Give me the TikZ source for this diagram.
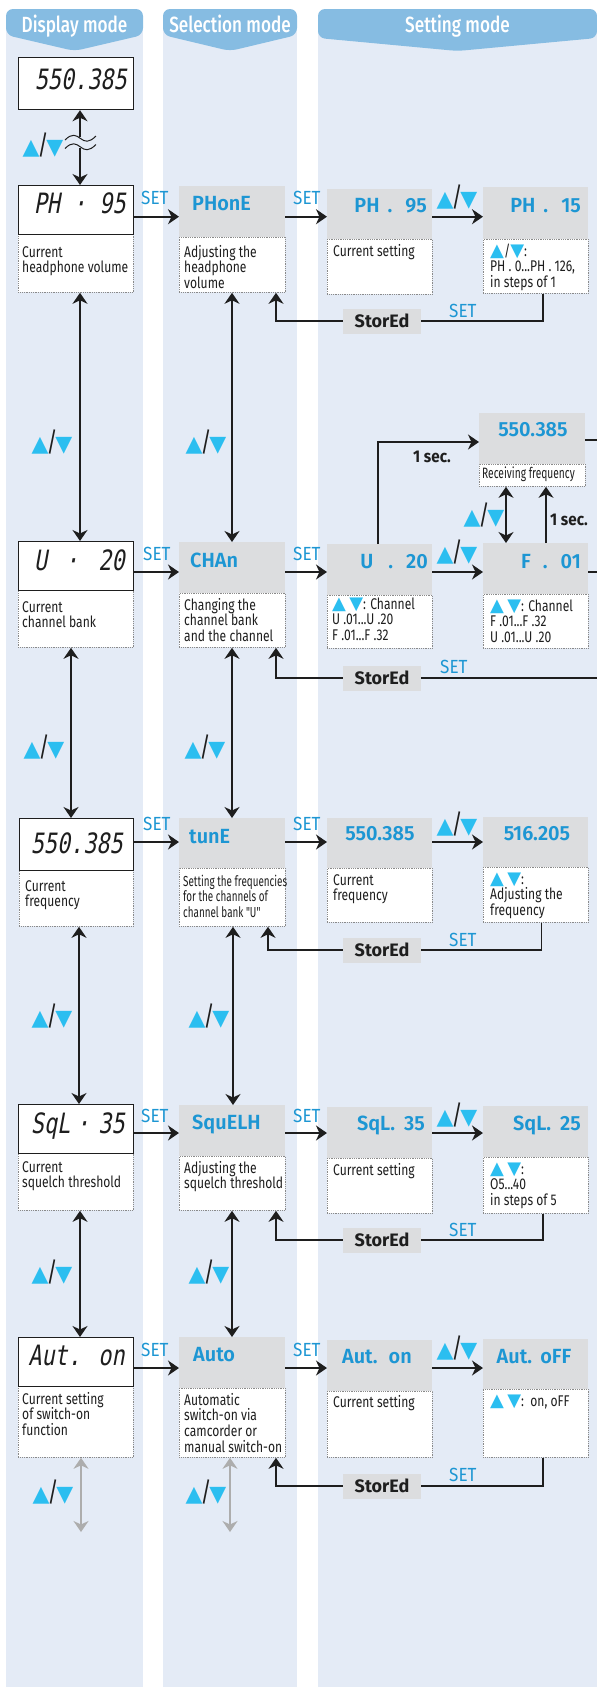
\documentclass[tikz,border=0pt]{standalone}
\usepackage{fontspec}
\usetikzlibrary{arrows.meta}
\setmainfont{Fira Sans}
\newfontfamily\hdrfont[FakeStretch=0.78]{Fira Sans Medium}
\newfontfamily\setfont[FakeStretch=0.9]{Fira Sans}
\newfontfamily\semifont[FakeStretch=0.97]{Fira Sans SemiBold}
\newfontfamily\bodyfont[FakeStretch=0.78]{Fira Sans}
\newfontfamily\narrowfont[FakeStretch=0.68]{Fira Sans}
\newfontfamily\lcdfont[FakeStretch=0.78,FakeSlant=0.18]{DejaVu Sans Mono}
\newfontfamily\symfont{DejaVu Sans}
\definecolor{colbg}{HTML}{E4EBF6}
\definecolor{hdr}{HTML}{86BCE2}
\definecolor{boxgrey}{HTML}{DCDDDF}
\definecolor{dblue}{HTML}{1D96D3}
\definecolor{tri}{HTML}{2BBEF0}
\definecolor{ink}{HTML}{1E1E1E}
\definecolor{dotc}{HTML}{8A8A8A}
\definecolor{ghost}{HTML}{ADADAD}
\newcommand\UpT{\textcolor{tri}{\symfont ▲}}
\newcommand\DnT{\textcolor{tri}{\symfont ▼}}
\newcommand\UDbig{{\fontsize{22}{22}\selectfont\UpT{\bodyfont\fontsize{27}{27}\selectfont\hspace{-2pt}\textcolor{ink}{/}\hspace{-2pt}}\DnT}}
\newcommand\UDs{{\fontsize{18}{12}\selectfont\UpT}}
\newcommand\DDs{{\fontsize{18}{12}\selectfont\DnT}}
\newcommand\fst{\rule{0pt}{13pt}}
\newcommand\bx[6]{\pgfmathsetmacro\bw{#5-#3}\pgfmathsetmacro\bh{#6-#4}\node[#1,minimum width=\bw pt,minimum height=\bh pt] (#2) at (#3,#4) {};}
\begin{document}
\begin{tikzpicture}[x=1pt,y=-1pt,
 lcdb/.style={draw=ink,line width=1.2pt,fill=white,inner sep=0pt,anchor=north west},
 greyb/.style={fill=boxgrey,inner sep=0pt,anchor=north west},
 dotb/.style={draw=dotc,densely dotted,line width=0.8pt,fill=white,inner sep=0pt,anchor=north west},
 lcdt/.style={font=\lcdfont\fontsize{28}{28}\selectfont,text=ink,inner sep=0pt,anchor=base east},
 bluet/.style={font=\semifont\fontsize{20.5}{20.5}\selectfont,text=dblue,inner sep=0pt,anchor=base west},
 bluer/.style={bluet,anchor=base east},
 bluec/.style={bluet,anchor=base},
 desct/.style={font=\bodyfont\fontsize{15.5}{15.7}\selectfont,text=ink,inner sep=0pt,anchor=north west,align=left},
 smallt/.style={font=\narrowfont\fontsize{14.5}{15.5}\selectfont,text=ink,inner sep=0pt,anchor=north west,align=left},
 sett/.style={font=\setfont\fontsize{19}{19}\selectfont,text=dblue,inner sep=0pt,anchor=base west},
 stor/.style={fill=boxgrey,inner sep=0pt,minimum width=78pt,minimum height=25pt,font=\bfseries\fontsize{18}{18}\selectfont,text=ink},
 sect/.style={font=\setfont\bfseries\fontsize{17}{17}\selectfont,text=ink,inner sep=0pt,anchor=base west},
 udt/.style={inner sep=0pt,anchor=center},
 hdrt/.style={font=\hdrfont\fontsize{22}{22}\selectfont,text=white,inner sep=0pt,anchor=base},
 arr/.style={draw=ink,line width=1.6pt,-{Stealth[length=11pt,width=15pt,inset=3.5pt]}},
 darr/.style={draw=ink,line width=1.6pt,{Stealth[length=11pt,width=15pt,inset=3.5pt]}-{Stealth[length=11pt,width=15pt,inset=3.5pt]}},
 garr/.style={darr,draw=ghost},
 ln/.style={draw=ink,line width=1.6pt},
 wave/.style={draw=ink,line width=1pt}]
\useasboundingbox (0,0) rectangle (597,1687);
% columns
\fill[colbg] (6,25) rectangle (143,1687);
\fill[colbg] (163,25) rectangle (297,1687);
\fill[colbg] (318,25) rectangle (597,1687);
\fill[hdr,rounded corners=7pt] (6,35) -- (6,9) -- (143,9) -- (143,35) -- (74.5,51) -- cycle;
\fill[hdr,rounded corners=7pt] (163,35) -- (163,9) -- (297,9) -- (297,35) -- (230,51) -- cycle;
\fill[hdr,rounded corners=7pt] (318,38) -- (318,9) -- (597,9) -- (597,38) -- (457.5,51) -- cycle;
\node[hdrt] (h1) at (74.5,32) {Display mode};
\node[hdrt] (h2) at (230,32) {Selection mode};
\node[hdrt] (h3) at (457.5,32) {Setting mode};
% coordinates
\coordinate (y1) at (0,216.7); \coordinate (y2) at (0,572); \coordinate (y3) at (0,842);
\coordinate (y4) at (0,1133); \coordinate (y5) at (0,1368); \coordinate (y2r) at (0,442);
\coordinate (x80) at (80,0); \coordinate (x71) at (71,0); \coordinate (x79) at (79,0);
\coordinate (x232) at (232,0); \coordinate (x233) at (233,0); \coordinate (x276) at (276,0);
\coordinate (x268) at (268,0); \coordinate (x543) at (543,0); \coordinate (x541) at (541.5,0);
\coordinate (x378) at (378,0); \coordinate (x506) at (506,0); \coordinate (x546) at (546,0);
% top box
\bx{lcdb}{d0}{18}{57}{133}{109}
\node[lcdt] (d0t) at (127,89) {550.385};
% row 1
\bx{dotb}{d1d}{18}{234}{133}{292}
\bx{lcdb}{d1}{18}{185}{133}{234}
\bx{dotb}{s1d}{179}{237}{285}{292}
\bx{greyb}{s1}{179}{186}{285}{237}
\bx{dotb}{a1d}{327}{239}{432}{294}
\bx{greyb}{a1}{327}{189}{432}{239}
\bx{dotb}{b1d}{483}{239}{588}{293}
\bx{greyb}{b1}{483}{187}{588}{239}
\node[lcdt] (d1t) at (126,213) {PH · 95};
\node[bluet] (s1t) at (192,210) {PHonE};
\node[bluer] (a1t) at (427,212) {PH\hspace{8pt}.\hspace{13pt}95};
\node[bluer] (b1t) at (581,212) {PH\hspace{8pt}.\hspace{13pt}15};
\node[desct] (d1x) at (22,244) {\fst Current\\headphone volume};
\node[desct] (s1x) at (184,244) {\fst Adjusting the\\headphone\\volume};
\node[desct] (a1x) at (333,243) {\fst Current setting};
\node[desct] (b1x) at (490,243) {\fst\UDs/\DDs:\\PH . 0...PH . 126,\\in steps of 1};
\node[stor] (st1) at (382,321) {StorEd};
% row 2
\bx{dotb}{d2d}{18}{590}{133}{647}
\bx{lcdb}{d2}{18}{541}{133}{590}
\bx{dotb}{s2d}{179}{593}{285}{647}
\bx{greyb}{s2}{179}{542}{285}{593}
\bx{dotb}{a2d}{327}{595}{432}{648}
\bx{greyb}{a2}{327}{544}{432}{595}
\bx{dotb}{b2d}{483}{594}{588}{648}
\bx{greyb}{b2}{483}{543}{588}{594}
\bx{dotb}{rfd}{479}{464}{585}{486}
\bx{greyb}{rf}{479}{413}{585}{464}
\node[lcdt] (d2t) at (125,570) {U\hspace{18pt}·\hspace{20pt}20};
\node[bluet] (s2t) at (190,567) {CHAn};
\node[bluer] (a2t) at (428,568) {U\hspace{15pt}.\hspace{13pt}20};
\node[bluer] (b2t) at (581,568) {F\hspace{12pt}.\hspace{13pt}01};
\node[bluec] (rft) at (533,436) {550.385};
\node[desct] (d2x) at (22,599) {\fst Current\\channel bank};
\node[desct] (s2x) at (184,597) {\fst Changing the\\channel bank\\and the channel};
\node[desct] (a2x) at (332,596) {\fst\UDs\ \DDs: Channel\\U .01...U .20\\F .01...F .32};
\node[desct] (b2x) at (490,598) {\fst\UDs\ \DDs: Channel\\F .01...F .32\\U .01...U .20};
\node[smallt,font=\narrowfont\fontsize{15}{15}\selectfont] (rfx) at (482,465) {\fst Receiving frequency};
\node[stor] (st2) at (382,678) {StorEd};
% row 3
\bx{dotb}{d3d}{19}{870}{133}{926}
\bx{lcdb}{d3}{19}{818}{133}{870}
\bx{dotb}{s3d}{179}{868}{285}{926}
\bx{greyb}{s3}{179}{818}{285}{868}
\bx{dotb}{a3d}{327}{868}{432}{922}
\bx{greyb}{a3}{327}{818}{432}{868}
\bx{dotb}{b3d}{483}{867}{588}{922}
\bx{greyb}{b3}{483}{817}{588}{867}
\node[lcdt] (d3t) at (123,853) {550.385};
\node[bluet] (s3t) at (189,843) {tunE};
\node[bluec] (a3t) at (380,840) {550.385};
\node[bluec] (b3t) at (537,840) {516.205};
\node[desct] (d3x) at (25,878) {\fst Current\\frequency};
\node[smallt] (s3x) at (183,873) {\fst Setting the frequencies\\for the channels of\\channel bank "U"};
\node[desct] (a3x) at (333,872) {\fst Current\\frequency};
\node[desct] (b3x) at (490,871) {\fst\UDs\ \DDs:\\Adjusting the\\frequency};
\node[stor] (st3) at (382,950) {StorEd};
% row 4
\bx{dotb}{d4d}{18}{1153}{133}{1210}
\bx{lcdb}{d4}{18}{1104}{133}{1153}
\bx{dotb}{s4d}{179}{1156}{285}{1210}
\bx{greyb}{s4}{179}{1105}{285}{1156}
\bx{dotb}{a4d}{327}{1158}{432}{1213}
\bx{greyb}{a4}{327}{1107}{432}{1158}
\bx{dotb}{b4d}{483}{1157}{588}{1213}
\bx{greyb}{b4}{483}{1106}{588}{1157}
\node[lcdt] (d4t) at (125,1133) {SqL\hspace{6pt}·\hspace{9pt}35};
\node[bluet] (s4t) at (192,1129) {SquELH};
\node[bluer] (a4t) at (425,1130) {SqL.\hspace{9pt}35};
\node[bluer] (b4t) at (581,1130) {SqL.\hspace{9pt}25};
\node[desct] (d4x) at (22,1159) {\fst Current\\squelch threshold};
\node[desct] (s4x) at (184,1160) {\fst Adjusting the\\squelch threshold};
\node[desct] (a4x) at (333,1162) {\fst Current setting};
\node[desct] (b4x) at (490,1161) {\fst\UDs\ \DDs:\\O5...40\\in steps of 5};
\node[stor] (st4) at (382,1240) {StorEd};
% row 5
\bx{dotb}{d5d}{18}{1386}{133}{1457}
\bx{lcdb}{d5}{18}{1337}{133}{1386}
\bx{dotb}{s5d}{179}{1388}{285}{1457}
\bx{greyb}{s5}{179}{1337}{285}{1388}
\bx{dotb}{a5d}{327}{1391}{432}{1457}
\bx{greyb}{a5}{327}{1340}{432}{1391}
\bx{dotb}{b5d}{483}{1389}{588}{1457}
\bx{greyb}{b5}{483}{1339}{588}{1389}
\node[lcdt] (d5t) at (125,1365) {Aut. on};
\node[bluet] (s5t) at (193,1361) {Auto};
\node[bluec] (a5t) at (377,1363) {Aut.\hspace{11pt}on};
\node[bluec] (b5t) at (534,1363) {Aut.\hspace{8pt}oFF};
\node[desct] (d5x) at (22,1391) {\fst Current setting\\of switch-on\\function};
\node[desct] (s5x) at (184,1392) {\fst Automatic\\switch-on via\\camcorder or\\manual switch-on};
\node[desct] (a5x) at (333,1394) {\fst Current setting};
\node[desct] (b5x) at (490,1393) {\fst\UDs\ \DDs:\ \ on, oFF};
\node[stor] (st5) at (382,1486) {StorEd};
% horizontal arrows
\foreach \r in {1,...,5}{
  \draw[arr] (d\r.east |- y\r) -- (s\r.west |- y\r);
  \draw[arr] (s\r.east |- y\r) -- (a\r.west |- y\r);
  \draw[arr] (a\r.east |- y\r) -- (b\r.west |- y\r);
}
% SET labels
\node[sett] (e11) at (141,204) {SET}; \node[sett] (e12) at (293,204) {SET};
\node[sett] (e21) at (143,560) {SET}; \node[sett] (e22) at (293,560) {SET};
\node[sett] (e31) at (143,830) {SET}; \node[sett] (e32) at (293,830) {SET};
\node[sett] (e41) at (141,1122) {SET}; \node[sett] (e42) at (293,1122) {SET};
\node[sett] (e51) at (141,1356) {SET}; \node[sett] (e52) at (293,1356) {SET};
\node[sett] (r1s) at (449,317) {SET};
\node[sett] (r2s) at (440,673) {SET};
\node[sett] (r3s) at (449,946) {SET};
\node[sett] (r4s) at (449,1236) {SET};
\node[sett] (r5s) at (449,1481) {SET};
% up/down symbols on setting arrows
\node[udt] (u1) at (457,197) {\UDbig};
\node[udt] (u2) at (457,552) {\UDbig};
\node[udt] (u3) at (457,824) {\UDbig};
\node[udt] (u4) at (457,1115) {\UDbig};
\node[udt] (u5) at (457,1348) {\UDbig};
\node[udt] (urf) at (484,515) {\UDbig};
% return paths
\draw[ln] (b1d.south -| x543) |- (st1.east);
\draw[arr] (st1.west) -| (s1d.south -| x276);
\coordinate (e2in) at (597,678);
\draw[ln] (e2in) -- (st2.east);
\draw[arr] (st2.west) -| (s2d.south -| x276);
\draw[ln] (b3d.south -| x541) |- (st3.east);
\draw[arr] (st3.west) -| (s3d.south -| x268);
\draw[ln] (b4d.south -| x543) |- (st4.east);
\draw[arr] (st4.west) -| (s4d.south -| x276);
\draw[ln] (b5d.south -| x543) |- (st5.east);
\draw[arr] (st5.west) -| (s5d.south -| x276);
% channel row extras
\coordinate (rfout) at (597,440);
\coordinate (b2out) at (597,572);
\draw[arr] (a2.north -| x378) |- (rf.west |- y2r);
\draw[ln] (rf.east |- rfout) -- (rfout);
\draw[ln] (b2.east |- b2out) -- (b2out);
\draw[darr] (rfd.south -| x506) -- (b2.north -| x506);
\draw[arr] (b2.north -| x546) -- (rfd.south -| x546);
\node[sect] (sec1) at (413,462) {1 sec.};
\node[sect] (sec2) at (550,525) {1 sec.};
% top arrow with break
\coordinate (bk1) at (80,137);
\coordinate (bk2) at (80,148);
\draw[arr] (bk1) -- (d0.south -| bk1);
\draw[arr] (bk2) -- (d1.north -| bk2);
\draw[wave] (65,140) .. controls (72,133) and (76,135) .. (80.5,138.5) .. controls (85,142) and (89,143) .. (96,136);
\draw[wave] (65,148.5) .. controls (72,141.5) and (76,143.5) .. (80.5,147) .. controls (85,150.5) and (89,151.5) .. (96,144.5);
\node[udt] (v0) at (43,145) {\UDbig};
% vertical arrows
\draw[darr] (d1d.south -| x80) -- (d2.north -| x80);
\draw[darr] (s1d.south -| x232) -- (s2.north -| x232);
\draw[darr] (d2d.south -| x71) -- (d3.north -| x71);
\draw[darr] (s2d.south -| x232) -- (s3.north -| x232);
\draw[darr] (d3d.south -| x79) -- (d4.north -| x79);
\draw[darr] (s3d.south -| x233) -- (s4.north -| x233);
\draw[darr] (d4d.south -| x80) -- (d5.north -| x80);
\draw[darr] (s4d.south -| x232) -- (s5.north -| x232);
\coordinate (gd) at (81,1532);
\coordinate (gs) at (230,1532);
\draw[garr] (d5d.south -| gd) -- (gd);
\draw[garr] (s5d.south -| gs) -- (gs);
\node[udt] (v1) at (52,442) {\UDbig};
\node[udt] (w1) at (206,442) {\UDbig};
\node[udt] (v2) at (44,747) {\UDbig};
\node[udt] (w2) at (205,747) {\UDbig};
\node[udt] (v3) at (52,1016) {\UDbig};
\node[udt] (w3) at (209,1016) {\UDbig};
\node[udt] (v4) at (52,1272) {\UDbig};
\node[udt] (w4) at (209,1272) {\UDbig};
\node[udt] (v5) at (53,1492) {\UDbig};
\node[udt] (w5) at (206,1492) {\UDbig};
\end{tikzpicture}
\end{document}
